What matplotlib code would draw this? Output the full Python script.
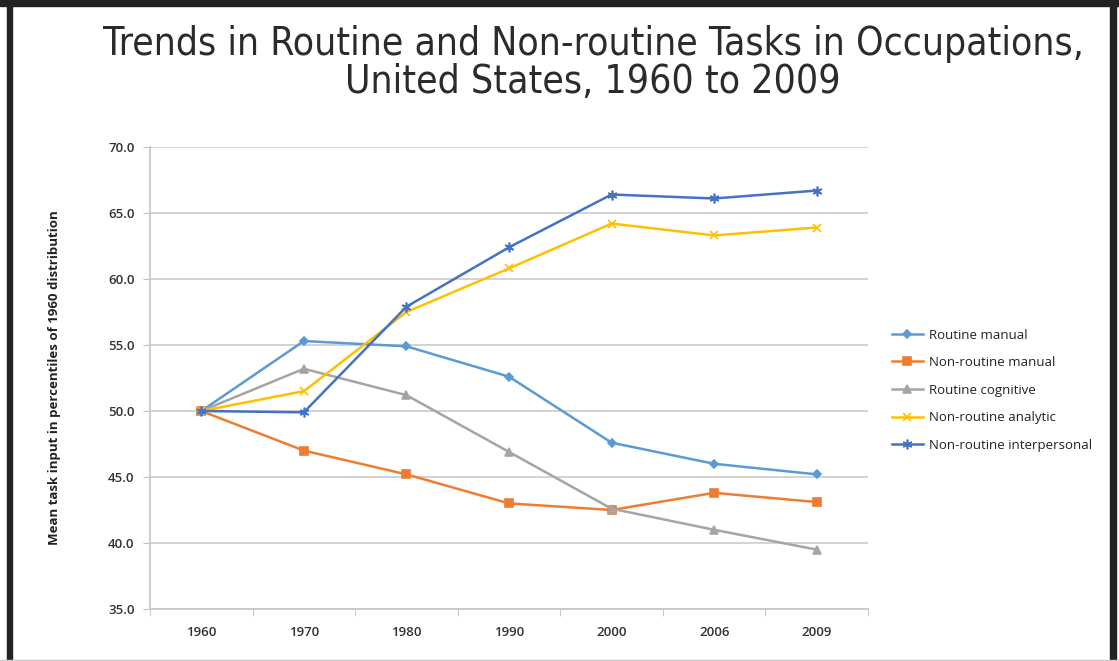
import matplotlib
matplotlib.use("Agg")
import matplotlib.pyplot as plt
from matplotlib.patches import Rectangle

# data
years = ["1960", "1970", "1980", "1990", "2000", "2006", "2009"]
routine_manual = [50.0, 55.3, 54.9, 52.6, 47.6, 46.0, 45.2]
nonroutine_manual = [50.0, 47.0, 45.2, 43.0, 42.5, 43.8, 43.1]
routine_cognitive = [50.0, 53.2, 51.2, 46.9, 42.6, 41.0, 39.5]
nonroutine_analytic = [50.0, 51.5, 57.5, 60.8, 64.2, 63.3, 63.9]
nonroutine_interpersonal = [50.0, 49.9, 57.9, 62.4, 66.4, 66.1, 66.7]
yticks = [35.0, 40.0, 45.0, 50.0, 55.0, 60.0, 65.0, 70.0]

series = [
    ("Routine manual", routine_manual, "#5B9BD5", "D", 4.5),
    ("Non-routine manual", nonroutine_manual, "#ED7D31", "s", 6),
    ("Routine cognitive", routine_cognitive, "#A5A5A5", "^", 6),
    ("Non-routine analytic", nonroutine_analytic, "#FFC000", "x", 6),
    ("Non-routine interpersonal", nonroutine_interpersonal, "#4472C4", (6, 2, 0), 7),
]

plt.rcParams['font.family'] = ['Open Sans', 'DejaVu Sans']

fig = plt.figure(figsize=(11.19, 6.61), dpi=100)

# black frame around the picture
fig.patches.append(Rectangle((0, 1 - 6 / 661), 1, 6 / 661, transform=fig.transFigure,
                             color="#222222", zorder=0))
fig.patches.append(Rectangle((7 / 1119, 0), 5 / 1119, 1, transform=fig.transFigure,
                             color="#222222", zorder=0))
fig.patches.append(Rectangle((1110 / 1119, 0), 6 / 1119, 1, transform=fig.transFigure,
                             color="#222222", zorder=0))
fig.patches.append(Rectangle((0, 0), 1, 1.5 / 661, transform=fig.transFigure,
                             color="#c8c8c8", zorder=0))

ax = fig.add_axes([150 / 1119, 1 - 609 / 661, 718 / 1119, 462 / 661])

x = list(range(len(years)))
for name, vals, col, mk, ms in series:
    ax.plot(x, vals, color=col, lw=1.8, marker=mk, ms=ms, mew=1.2,
            mec=col, mfc=col, label=name, zorder=3)

ax.set_xlim(-0.5, len(years) - 0.5)
ax.set_ylim(35, 70)
ax.set_yticks(yticks)
ax.set_yticklabels(["%.1f" % v for v in yticks], fontsize=9.5, color="#333333",
                   fontweight="semibold")
ax.set_xticks(x)
ax.set_xticklabels(years, fontsize=9.5, color="#333333", fontweight="semibold")
ax.set_xticks([i - 0.5 for i in range(len(years) + 1)], minor=True)
ax.tick_params(axis="x", which="major", length=0, pad=12)
ax.tick_params(axis="x", which="minor", length=5, color="#bfbfbf")
ax.tick_params(axis="y", length=5, color="#bfbfbf", pad=6)
ax.grid(axis="y", color="#d0d0d0", lw=1.3, zorder=0)
for s in ["top", "right"]:
    ax.spines[s].set_visible(False)
for s in ["left", "bottom"]:
    ax.spines[s].set_color("#c8c8c8")
    ax.spines[s].set_linewidth(1.3)

ax.set_ylabel("Mean task input in percentiles of 1960 distribution", fontsize=9.5,
              fontweight="bold", color="#222222", labelpad=34)

ax.legend(loc="upper left", bbox_to_anchor=(885 / 1119, 1 - 322 / 661),
          bbox_transform=fig.transFigure, frameon=False, fontsize=9.5,
          handlelength=2.4, handletextpad=0.4, labelspacing=1.1, borderpad=0,
          labelcolor="#222222")

fig.text(593 / 1119, 1 - 44 / 661, "Trends in Routine and Non-routine Tasks in Occupations,",
         ha="center", va="center", fontsize=28, color="#2b2b2b",
         family="DejaVu Sans", fontstretch="condensed")
fig.text(593 / 1119, 1 - 82 / 661, "United States, 1960 to 2009",
         ha="center", va="center", fontsize=28, color="#2b2b2b",
         family="DejaVu Sans", fontstretch="condensed")

fig.savefig("out.png", dpi=100)
